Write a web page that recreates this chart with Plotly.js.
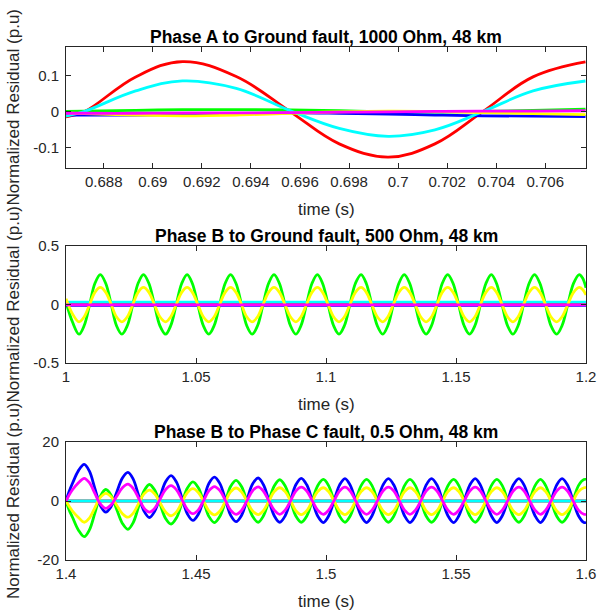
<!DOCTYPE html>
<html>
<head>
<meta charset="utf-8">
<script src="https://cdn.plot.ly/plotly-3.0.1.min.js"></script>
<style>html,body{margin:0;padding:0;background:#fff;}#chart{width:599px;height:616px;}</style>
</head>
<body>
<div id="chart"></div>
<script>
// ---------- Panel 1: Phase A to Ground fault, 1000 Ohm ----------
const t1 = [0.68646, 0.6872, 0.6893, 0.69121, 0.6934, 0.69561, 0.6976, 0.6996, 0.7015, 0.70344, 0.7055, 0.70764];
const p1Red     = [-0.014, 0, 0.097, 0.1395, 0.098, 0, -0.089, -0.1256, -0.089, 0, 0.097, 0.1386];
const p1Cyan    = [-0.012, 0.001, 0.058, 0.086, 0.065, 0.003, -0.046, -0.068, -0.050, 0, 0.058, 0.0856];
const p1Green   = [0.001, 0.002, 0.004, 0.006, 0.006, 0.005, 0.003, 0.0, -0.001, 0.001, 0.004, 0.0075];
const p1Blue    = [-0.009, -0.009, -0.009, -0.008, -0.006, -0.003, -0.004, -0.006, -0.009, -0.011, -0.012, -0.013];
const p1Yellow  = [-0.003, -0.005, -0.009, -0.011, -0.009, -0.004, 0.0, 0.002, 0.001, -0.002, -0.005, -0.008];
const p1Magenta = [-0.004, -0.004, -0.004, -0.003, -0.003, -0.002, -0.001, 0.0, 0.001, 0.002, 0.002, 0.003];

// ---------- Panel 2: Phase B to Ground fault, 500 Ohm ----------
const t2 = [1.0000, 1.0025,
  1.0050, 1.0070, 1.0091, 1.0111, 1.0132, 1.0153, 1.0174, 1.0194,
  1.0215, 1.0236, 1.0257, 1.0277, 1.0298, 1.0319, 1.0340, 1.0361,
  1.0383, 1.0403, 1.0424, 1.0445, 1.0466, 1.0486, 1.0507, 1.0528,
  1.0549, 1.0570, 1.0591, 1.0612, 1.0633, 1.0654, 1.0675, 1.0695,
  1.0716, 1.0737, 1.0758, 1.0779, 1.0800, 1.0821, 1.0842, 1.0863,
  1.0884, 1.0904, 1.0925, 1.0946, 1.0967, 1.0987, 1.1008, 1.1029,
  1.1050, 1.1071, 1.1092, 1.1113, 1.1135, 1.1155, 1.1176, 1.1197,
  1.1218, 1.1238, 1.1259, 1.1280, 1.1301, 1.1322, 1.1343, 1.1364,
  1.1385, 1.1406, 1.1427, 1.1447, 1.1468, 1.1489, 1.1510, 1.1531,
  1.1552, 1.1573, 1.1594, 1.1615, 1.1636, 1.1656, 1.1677, 1.1698,
  1.1719, 1.1739, 1.1760, 1.1781, 1.1802, 1.1823, 1.1844, 1.1865,
  1.1887, 1.1908, 1.1930, 1.1952, 1.1974, 1.1987, 1.2000];
const p2Green = [0.02, -0.15,
  -0.254, -0.18, 0, 0.18, 0.256, 0.18, 0, -0.18,
  -0.254, -0.18, 0, 0.18, 0.256, 0.18, 0, -0.18,
  -0.254, -0.18, 0, 0.18, 0.256, 0.18, 0, -0.18,
  -0.254, -0.18, 0, 0.18, 0.256, 0.18, 0, -0.18,
  -0.254, -0.18, 0, 0.18, 0.256, 0.18, 0, -0.18,
  -0.254, -0.18, 0, 0.18, 0.256, 0.18, 0, -0.18,
  -0.254, -0.18, 0, 0.18, 0.256, 0.18, 0, -0.18,
  -0.254, -0.18, 0, 0.18, 0.256, 0.18, 0, -0.18,
  -0.254, -0.18, 0, 0.18, 0.256, 0.18, 0, -0.18,
  -0.254, -0.18, 0, 0.18, 0.256, 0.18, 0, -0.18,
  -0.254, -0.18, 0, 0.18, 0.256, 0.18, 0, -0.18,
  -0.254, -0.18, 0, 0.18, 0.256, 0.226, 0.143];
const p2Yellow = [0.05, -0.08,
  -0.148, -0.105, 0, 0.104, 0.146, 0.104, 0, -0.105,
  -0.148, -0.105, 0, 0.104, 0.146, 0.104, 0, -0.105,
  -0.148, -0.105, 0, 0.104, 0.146, 0.104, 0, -0.105,
  -0.148, -0.105, 0, 0.104, 0.146, 0.104, 0, -0.105,
  -0.148, -0.105, 0, 0.104, 0.146, 0.104, 0, -0.105,
  -0.148, -0.105, 0, 0.104, 0.146, 0.104, 0, -0.105,
  -0.148, -0.105, 0, 0.104, 0.146, 0.104, 0, -0.105,
  -0.148, -0.105, 0, 0.104, 0.146, 0.104, 0, -0.105,
  -0.148, -0.105, 0, 0.104, 0.146, 0.104, 0, -0.105,
  -0.148, -0.105, 0, 0.104, 0.146, 0.104, 0, -0.105,
  -0.148, -0.105, 0, 0.104, 0.146, 0.104, 0, -0.105,
  -0.148, -0.105, 0, 0.104, 0.146, 0.129, 0.082];
const t2Flat = [1.0, 1.1, 1.2];
const p2Red     = [0.015, 0.015, 0.015];
const p2Cyan    = [0.021, 0.021, 0.021];
const p2Blue    = [-0.008, -0.008, -0.008];
const p2Magenta = [-0.004, -0.004, -0.004];

// ---------- Panel 3: Phase B to Phase C fault, 0.5 Ohm ----------
const t3 = [1.4000, 1.4012, 1.4025, 1.4048,
  1.4070, 1.4090, 1.4111, 1.4132, 1.4153, 1.4174, 1.4195, 1.4217,
  1.4238, 1.4258, 1.4279, 1.4300, 1.4321, 1.4341, 1.4362, 1.4383,
  1.4404, 1.4425, 1.4446, 1.4467, 1.4488, 1.4509, 1.4530, 1.4550,
  1.4571, 1.4592, 1.4613, 1.4633, 1.4654, 1.4675, 1.4696, 1.4717,
  1.4739, 1.4759, 1.4780, 1.4801, 1.4822, 1.4843, 1.4864, 1.4884,
  1.4905, 1.4926, 1.4947, 1.4968, 1.4990, 1.5010, 1.5031, 1.5052,
  1.5073, 1.5093, 1.5114, 1.5135, 1.5156, 1.5177, 1.5198, 1.5219,
  1.5240, 1.5261, 1.5282, 1.5302, 1.5323, 1.5344, 1.5365, 1.5385,
  1.5406, 1.5427, 1.5448, 1.5469, 1.5491, 1.5511, 1.5532, 1.5553,
  1.5574, 1.5594, 1.5615, 1.5636, 1.5657, 1.5678, 1.5699, 1.5720,
  1.5742, 1.5762, 1.5783, 1.5804, 1.5825, 1.5845, 1.5866, 1.5887,
  1.5908, 1.5929, 1.5950, 1.5971, 1.5992, 1.6000];
const p3Blue = [0, 3.2, 6.0, 10.3,
  12.4, 10.1, 4.3, -1.5, -3.8, -1.8, 3.0, 7.8,
  9.7, 7.5, 2.0, -3.4, -5.6, -3.5, 1.5, 6.5,
  8.6, 6.4, 1.0, -4.4, -6.6, -4.5, 0.75, 6.0,
  8.1, 5.9, 0.55, -4.8, -7.0, -4.9, 0.4, 5.7,
  7.8, 5.6, 0.3, -5.0, -7.2, -5.0, 0.25, 5.5,
  7.7, 5.5, 0.2, -5.1, -7.3, -5.1, 0.15, 5.4,
  7.6, 5.4, 0.15, -5.0, -7.3, -5.0, 0.15, 5.4,
  7.6, 5.4, 0.15, -5.0, -7.3, -5.0, 0.15, 5.4,
  7.6, 5.4, 0.15, -5.0, -7.3, -5.0, 0.15, 5.4,
  7.6, 5.4, 0.15, -5.0, -7.3, -5.0, 0.15, 5.4,
  7.6, 5.4, 0.15, -5.0, -7.3, -5.0, 0.15, 5.4,
  7.6, 5.4, 0.15, -5.0, -7.3, -7.2];
const p3Green = [0, -3.0, -5.5, -9.9,
  -12.1, -9.8, -4.1, 1.6, 3.9, 1.9, -2.85, -7.6,
  -9.6, -7.4, -2.0, 3.4, 5.6, 3.7, -1.1, -5.9,
  -7.8, -5.7, -0.7, 4.4, 6.5, 4.5, -0.4, -5.3,
  -7.3, -5.2, -0.15, 4.9, 7.0, 4.9, -0.1, -5.1,
  -7.2, -5.1, 0, 5.1, 7.2, 5.1, 0, -5.1,
  -7.2, -5.1, 0, 5.2, 7.3, 5.2, 0, -5.1,
  -7.2, -5.1, 0, 5.2, 7.3, 5.2, 0, -5.1,
  -7.2, -5.1, 0, 5.2, 7.3, 5.2, 0, -5.1,
  -7.2, -5.1, 0, 5.2, 7.3, 5.2, 0, -5.1,
  -7.2, -5.1, 0, 5.2, 7.3, 5.2, 0, -5.1,
  -7.2, -5.1, 0, 5.2, 7.3, 5.2, 0, -5.1,
  -7.2, -5.1, 0, 5.2, 7.3, 7.3];
const p3Magenta = [0, 2.0, 3.8, 6.2,
  7.7, 6.2, 2.6, -1.0, -2.5, -1.3, 1.6, 4.5,
  5.7, 4.3, 1.0, -2.4, -3.8, -2.5, 0.7, 3.9,
  5.2, 3.8, 0.45, -2.9, -4.3, -3.0, 0.25, 3.5,
  4.9, 3.5, 0.2, -3.1, -4.5, -3.2, 0.1, 3.4,
  4.8, 3.4, 0.1, -3.1, -4.5, -3.1, 0.1, 3.4,
  4.7, 3.4, 0.1, -3.1, -4.5, -3.1, 0.1, 3.4,
  4.7, 3.4, 0.1, -3.1, -4.5, -3.1, 0.1, 3.4,
  4.7, 3.4, 0.1, -3.1, -4.5, -3.1, 0.1, 3.4,
  4.7, 3.4, 0.1, -3.1, -4.5, -3.1, 0.1, 3.4,
  4.7, 3.4, 0.1, -3.1, -4.5, -3.1, 0.1, 3.4,
  4.7, 3.4, 0.1, -3.1, -4.5, -3.1, 0.1, 3.4,
  4.7, 3.4, 0.1, -3.1, -4.5, -4.5];
const p3Yellow = [0, -1.8, -3.4, -5.6,
  -7.2, -5.8, -2.3, 1.2, 2.6, 1.4, -1.45, -4.3,
  -5.5, -4.2, -0.9, 2.4, 3.7, 2.4, -0.65, -3.7,
  -5.0, -3.7, -0.4, 2.9, 4.2, 2.9, -0.25, -3.4,
  -4.7, -3.4, -0.15, 3.1, 4.4, 3.1, -0.1, -3.3,
  -4.6, -3.3, -0.05, 3.2, 4.5, 3.2, 0, -3.3,
  -4.6, -3.3, 0, 3.2, 4.5, 3.2, 0, -3.3,
  -4.6, -3.3, 0, 3.2, 4.5, 3.2, 0, -3.3,
  -4.6, -3.3, 0, 3.2, 4.5, 3.2, 0, -3.3,
  -4.6, -3.3, 0, 3.2, 4.5, 3.2, 0, -3.3,
  -4.6, -3.3, 0, 3.2, 4.5, 3.2, 0, -3.3,
  -4.6, -3.3, 0, 3.2, 4.5, 3.2, 0, -3.3,
  -4.6, -3.3, 0, 3.2, 4.5, 4.5];
const t3Flat = [1.4, 1.5, 1.6];
const p3Red  = [0, 0, 0];
const p3Cyan = [0, 0, 0];

// ---------- Ticks and labels ----------
const x1Ticks = [0.688, 0.690, 0.692, 0.694, 0.696, 0.698, 0.700, 0.702, 0.704, 0.706];
const x1Text  = ['0.688', '0.69', '0.692', '0.694', '0.696', '0.698', '0.7', '0.702', '0.704', '0.706'];
const y1Ticks = [-0.1, 0, 0.1];
const y1Text  = ['-0.1', '0', '0.1'];
const x2Ticks = [1, 1.05, 1.1, 1.15, 1.2];
const x2Text  = ['1', '1.05', '1.1', '1.15', '1.2'];
const y2Ticks = [-0.5, 0, 0.5];
const y2Text  = ['-0.5', '0', '0.5'];
const x3Ticks = [1.4, 1.45, 1.5, 1.55, 1.6];
const x3Text  = ['1.4', '1.45', '1.5', '1.55', '1.6'];
const y3Ticks = [-20, 0, 20];
const y3Text  = ['-20', '0', '20'];

const titles = ['Phase A to Ground fault, 1000 Ohm, 48 km',
                'Phase B to Ground fault, 500 Ohm, 48 km',
                'Phase B to Phase C fault, 0.5 Ohm, 48 km'];
const xLabel = 'time (s)';
const yLabel = 'Normalized Residual (p.u)';

// ---------- Build ----------
const FONT = 'Liberation Sans, Arial, Helvetica, sans-serif';
const LW = 2.8;
function tr(x, y, color, ax, smooth) {
  return {x: x, y: y, type: 'scatter', mode: 'lines', xaxis: 'x' + ax, yaxis: 'y' + ax,
          line: {color: color, width: LW, shape: smooth ? 'spline' : 'linear', smoothing: smooth || 0},
          hoverinfo: 'skip'};
}
const data = [
  tr(t1, p1Red, '#FF0000', '', 1.1),
  tr(t1, p1Green, '#00FF00', '', 1.0),
  tr(t1, p1Blue, '#0000FF', '', 1.0),
  tr(t1, p1Cyan, '#00FFFF', '', 1.1),
  tr(t1, p1Yellow, '#FFFF00', '', 1.0),
  tr(t1, p1Magenta, '#FF00FF', '', 1.0),

  tr(t2Flat, p2Red, '#FF0000', '2'),
  tr(t2, p2Green, '#00FF00', '2', 1.0),
  tr(t2Flat, p2Blue, '#0000FF', '2'),
  tr(t2Flat, p2Cyan, '#00FFFF', '2'),
  tr(t2, p2Yellow, '#FFFF00', '2', 1.0),
  tr(t2Flat, p2Magenta, '#FF00FF', '2'),

  tr(t3Flat, p3Red, '#FF0000', '3'),
  tr(t3, p3Green, '#00FF00', '3', 1.0),
  tr(t3, p3Blue, '#0000FF', '3', 1.0),
  tr(t3Flat, p3Cyan, '#00FFFF', '3'),
  tr(t3, p3Yellow, '#FFFF00', '3', 1.0),
  tr(t3, p3Magenta, '#FF00FF', '3', 1.0)
];

const AX = {showgrid: false, zeroline: false, showline: true, mirror: 'ticks',
            ticks: 'inside', ticklen: 5, tickwidth: 1, linewidth: 1,
            linecolor: '#262626', tickcolor: '#262626',
            tickfont: {family: FONT, size: 15, color: '#262626'}, fixedrange: true};
function ax(extra) { return Object.assign({}, AX, extra); }

const M = {l: 66, r: 13, t: 47, b: 56};
const H = 616, PH = H - M.t - M.b;
function py(pix) { return (H - M.b - pix) / PH; }
const dom1 = [py(168), 1], dom2 = [py(363), py(246)], dom3 = [0, py(442)];

const ann = [];
const tops = [47, 246, 442], bots = [168, 363, 560];
for (let i = 0; i < 3; i++) {
  ann.push({text: titles[i], xref: 'paper', yref: 'paper', x: 0.5, y: py(tops[i] - 10.5),
            xanchor: 'center', yanchor: 'middle', showarrow: false,
            font: {family: FONT, size: 17.5, color: '#000', weight: 'bold'}});
  ann.push({text: xLabel, xref: 'paper', yref: 'paper', x: 0.5, y: py(bots[i] + 41),
            xanchor: 'center', yanchor: 'middle', showarrow: false,
            font: {family: FONT, size: 17, color: '#262626'}});
  ann.push({text: yLabel, xref: 'paper', yref: 'paper', x: (13 - 66) / 520, y: py((tops[i] + bots[i]) / 2),
            xanchor: 'center', yanchor: 'middle', textangle: -90, showarrow: false,
            font: {family: FONT, size: 17, color: '#262626'}});
}

const layout = {
  width: 599, height: 616, margin: M, showlegend: false,
  paper_bgcolor: '#fff', plot_bgcolor: '#fff',
  font: {family: FONT},
  xaxis:  ax({domain: [0, 1], anchor: 'y',  range: [0.68646, 0.70766], tickvals: x1Ticks, ticktext: x1Text}),
  yaxis:  ax({domain: dom1,   anchor: 'x',  range: [-0.156, 0.18],     tickvals: y1Ticks, ticktext: y1Text, ticklabelstandoff: 3}),
  xaxis2: ax({domain: [0, 1], anchor: 'y2', range: [1, 1.2],           tickvals: x2Ticks, ticktext: x2Text}),
  yaxis2: ax({domain: dom2,   anchor: 'x2', range: [-0.5, 0.5],        tickvals: y2Ticks, ticktext: y2Text, ticklabelstandoff: 3}),
  xaxis3: ax({domain: [0, 1], anchor: 'y3', range: [1.4, 1.6],         tickvals: x3Ticks, ticktext: x3Text}),
  yaxis3: ax({domain: dom3,   anchor: 'x3', range: [-20, 20],          tickvals: y3Ticks, ticktext: y3Text, ticklabelstandoff: 3}),
  annotations: ann
};

Plotly.newPlot('chart', data, layout, {staticPlot: true, displayModeBar: false});
</script>
</body>
</html>
